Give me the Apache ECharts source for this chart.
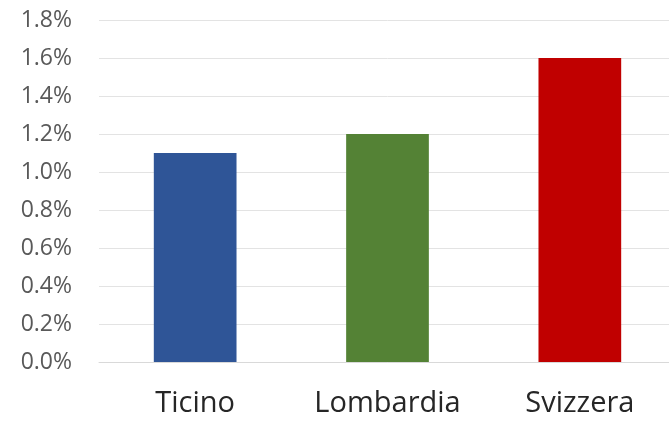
<!DOCTYPE html>
<html><head><meta charset="utf-8">
<script src="https://cdn.jsdelivr.net/npm/echarts@6/dist/echarts.min.js"></script>
<style>html,body{margin:0;padding:0;background:#fff;overflow:hidden}#c{width:676px;height:422px}</style>
</head><body><div id="c"></div>
<script>
const categories = ["Ticino", "Lombardia", "Svizzera"];
const values = [1.1, 1.2, 1.6];
const barColors = ["#2F5597", "#548235", "#C00000"];
const yTicks = [0, 0.2, 0.4, 0.6, 0.8, 1.0, 1.2, 1.4, 1.6, 1.8];

const chart = echarts.init(document.getElementById('c'), null, {renderer: 'canvas'});
chart.setOption({
  animation: false,
  grid: {left: 99, top: 20, right: 0, bottom: 60},
  xAxis: {
    type: 'category', data: categories,
    axisLine: {lineStyle: {color: '#d9d9d9', width: 1}},
    axisTick: {show: false},
    axisLabel: {color: '#262626', fontSize: 29, fontFamily: 'Open Sans', margin: 27}
  },
  yAxis: {
    type: 'value', min: 0, max: 1.8, interval: 0.2,
    axisLine: {show: false}, axisTick: {show: false},
    splitLine: {lineStyle: {color: '#e3e3e3', width: 1}},
    axisLabel: {color: '#595959', fontSize: 23, fontFamily: 'Open Sans', margin: 27,
      formatter: v => v.toFixed(1) + '%'}
  },
  series: [{
    type: 'bar', barWidth: '43%',
    data: values.map((v, i) => ({value: v, itemStyle: {color: barColors[i]}}))
  }]
});
</script></body></html>
